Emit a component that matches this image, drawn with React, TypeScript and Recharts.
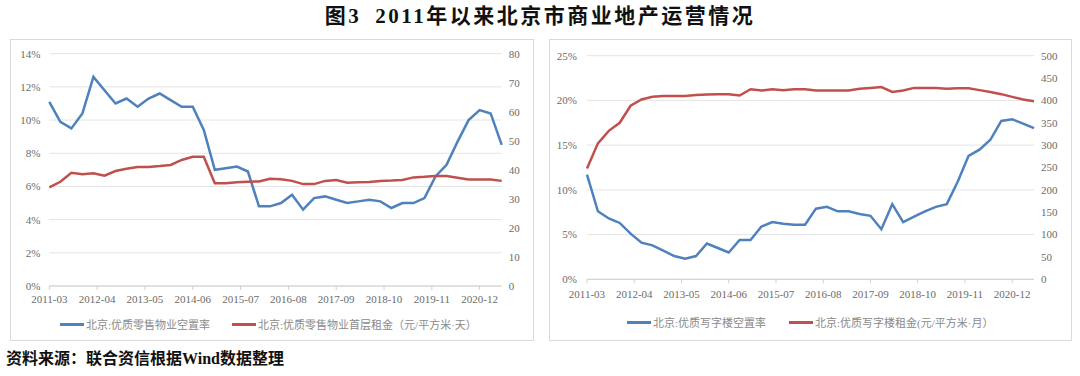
import React from 'react';
import { LineChart, Line, XAxis, YAxis, CartesianGrid, Legend } from 'recharts';

// Quarterly observation dates
const dates: string[] = [
  '2011-03', '2011-06', '2011-09', '2011-12',
  '2012-03', '2012-06', '2012-09', '2012-12',
  '2013-03', '2013-06', '2013-09', '2013-12',
  '2014-03', '2014-06', '2014-09', '2014-12',
  '2015-03', '2015-06', '2015-09', '2015-12',
  '2016-03', '2016-06', '2016-09', '2016-12',
  '2017-03', '2017-06', '2017-09', '2017-12',
  '2018-03', '2018-06', '2018-09', '2018-12',
  '2019-03', '2019-06', '2019-09', '2019-12',
  '2020-03', '2020-06', '2020-09', '2020-12',
  '2021-03', '2021-06',
];

const tickLabels: string[] = [
  '2011-03', '2012-04', '2013-05', '2014-06', '2015-07',
  '2016-08', '2017-09', '2018-10', '2019-11', '2020-12',
];

// 北京:优质零售物业空置率 (%)
const retailVacancy: number[] = [
  11.1, 9.9, 9.5, 10.4, 12.6, 11.8, 11.0, 11.3, 10.8, 11.3,
  11.6, 11.2, 10.8, 10.8, 9.4, 7.0, 7.1, 7.2, 6.9, 4.8,
  4.8, 5.0, 5.5, 4.6, 5.3, 5.4, 5.2, 5.0, 5.1, 5.2,
  5.1, 4.7, 5.0, 5.0, 5.3, 6.6, 7.3, 8.7, 10.0, 10.6,
  10.4, 8.5,
];
// 北京:优质零售物业首层租金 (元/平方米·天)
const retailRent: number[] = [
  34.0, 35.9, 39.0, 38.5, 38.8, 38.0, 39.6, 40.4, 41.0, 41.0,
  41.3, 41.7, 43.4, 44.5, 44.5, 35.4, 35.4, 35.7, 35.9, 36.0,
  36.9, 36.8, 36.2, 35.1, 35.1, 36.2, 36.5, 35.6, 35.7, 35.8,
  36.2, 36.3, 36.5, 37.4, 37.6, 37.9, 37.9, 37.3, 36.7, 36.7,
  36.7, 36.2,
];
// 北京:优质写字楼空置率 (%)
const officeVacancy: number[] = [
  11.7, 7.6, 6.8, 6.3, 5.1, 4.1, 3.8, 3.2, 2.6, 2.3,
  2.6, 4.0, 3.5, 3.0, 4.4, 4.4, 5.9, 6.4, 6.2, 6.1,
  6.1, 7.9, 8.1, 7.6, 7.6, 7.3, 7.1, 5.6, 8.4, 6.4,
  7.0, 7.6, 8.1, 8.4, 10.9, 13.8, 14.5, 15.6, 17.7, 17.9,
  17.4, 16.9,
];
// 北京:优质写字楼租金 (元/平方米·月)
const officeRent: number[] = [
  248, 304, 332, 350, 388, 402, 408, 410, 410, 410,
  412, 413, 414, 414, 411, 425, 422, 425, 423, 425,
  425, 422, 422, 422, 422, 426, 428, 430, 419, 422,
  428, 428, 428, 426, 427, 427, 423, 419, 414, 408,
  402, 398,
];

const leftPctTicks = [0, 2, 4, 6, 8, 10, 12, 14];
const leftRentTicks = [0, 10, 20, 30, 40, 50, 60, 70, 80];
const rightPctTicks = [0, 5, 10, 15, 20, 25];
const rightRentTicks = [0, 50, 100, 150, 200, 250, 300, 350, 400, 450, 500];

const monthIndex = (s: string) => {
  const [y, m] = s.split('-').map(Number);
  return (y - 2011) * 12 + (m - 3);
};
const tickMonths = tickLabels.map(monthIndex);
const labelByMonth: Record<number, string> = {};
tickLabels.forEach((t) => { labelByMonth[monthIndex(t)] = t; });
const xDomain = [0, monthIndex(dates[dates.length - 1])];

const retailData = dates.map((d, i) => ({ m: monthIndex(d), vac: retailVacancy[i], rent: retailRent[i] }));
const officeData = dates.map((d, i) => ({ m: monthIndex(d), vac: officeVacancy[i], rent: officeRent[i] }));

const BLUE = '#4F81BD';
const RED = '#C0504D';
const SERIF = '"Liberation Serif", "Times New Roman", "Noto Sans CJK SC", serif';
const tickStyle = { fontSize: 11, fill: '#6b6b6b', fontFamily: SERIF };

const makeLegend = (items: { name: string; color: string }[], left: number, gap: number) => () => (
  <div style={{ display: 'flex', alignItems: 'center', paddingLeft: left, fontFamily: SERIF, fontSize: 11, color: '#8a8a8a', whiteSpace: 'nowrap' }}>
    {items.map((it, k) => (
      <div key={k} style={{ display: 'flex', alignItems: 'center', marginRight: gap }}>
        <div style={{ width: 24, height: 3, background: it.color, marginRight: 2 }} />
        <span>{it.name}</span>
      </div>
    ))}
  </div>
);

const leftLegend = makeLegend([
  { name: '北京:优质零售物业空置率', color: BLUE },
  { name: '北京:优质零售物业首层租金（元/平方米·天）', color: RED },
], 50, 22);

const rightLegend = makeLegend([
  { name: '北京:优质写字楼空置率', color: BLUE },
  { name: '北京:优质写字楼租金(元/平方米·月）', color: RED },
], 78, 23);

export default function App() {
  return (
    <div style={{ position: 'absolute', left: 0, top: 0, width: 1080, height: 376, background: '#fff', overflow: 'hidden' }}>
      <div style={{ position: 'absolute', left: 0, top: 3, width: 1080, textAlign: 'center', fontFamily: SERIF, fontWeight: 'bold', fontSize: 21, letterSpacing: 2.5, color: '#111', lineHeight: '26px' }}>
        图3<span style={{ display: 'inline-block', width: 14 }} />2011年以来北京市商业地产运营情况
      </div>

      <div style={{ position: 'absolute', left: 10, top: 39, width: 524, height: 302, border: '1px solid #d9d9d9', boxSizing: 'border-box' }} />
      <div style={{ position: 'absolute', left: 10, top: 39 }}>
        <LineChart width={524} height={302} data={retailData} margin={{ top: 14.7, left: 9.3, right: 7.3, bottom: 35 }}>
          <CartesianGrid vertical={false} yAxisId="l" stroke="#e4e4e4" />
          <XAxis dataKey="m" type="number" domain={xDomain} ticks={tickMonths} interval={0}
            tickFormatter={(v: number) => labelByMonth[v] ?? ''} height={20}
            axisLine={{ stroke: '#d0d0d0' }} tickLine={{ stroke: '#d0d0d0' }} tickSize={4} tickMargin={5} tick={tickStyle} />
          <YAxis yAxisId="l" domain={[0, 14]} ticks={leftPctTicks} tickFormatter={(v: number) => `${v}%`}
            axisLine={false} tickLine={false} tickSize={7} tickMargin={2} width={30} tick={tickStyle} />
          <YAxis yAxisId="r" orientation="right" domain={[0, 80]} ticks={leftRentTicks}
            axisLine={false} tickLine={false} tickSize={5} tickMargin={2} width={25} tick={tickStyle} />
          <Line yAxisId="l" dataKey="vac" stroke={BLUE} strokeWidth={2.5} dot={false} type="linear" isAnimationActive={false} />
          <Line yAxisId="r" dataKey="rent" stroke={RED} strokeWidth={2.5} dot={false} type="linear" isAnimationActive={false} />
          <Legend verticalAlign="middle" align="center" layout="horizontal" content={leftLegend}
            wrapperStyle={{ top: 277, left: 0, width: 524, height: 16 }} />
        </LineChart>
      </div>

      <div style={{ position: 'absolute', left: 549, top: 39, width: 523, height: 302, border: '1px solid #d9d9d9', boxSizing: 'border-box' }} />
      <div style={{ position: 'absolute', left: 549, top: 39 }}>
        <LineChart width={523} height={302} data={officeData} margin={{ top: 16.7, left: 8, right: 8, bottom: 41.7 }}>
          <CartesianGrid vertical={false} yAxisId="l" stroke="#e4e4e4" />
          <XAxis dataKey="m" type="number" domain={xDomain} ticks={tickMonths} interval={0}
            tickFormatter={(v: number) => labelByMonth[v] ?? ''} height={20}
            axisLine={{ stroke: '#d0d0d0' }} tickLine={{ stroke: '#d0d0d0' }} tickSize={4} tickMargin={6.7} tick={tickStyle} />
          <YAxis yAxisId="l" domain={[0, 25]} ticks={rightPctTicks} tickFormatter={(v: number) => `${v}%`}
            axisLine={false} tickLine={false} tickSize={8} tickMargin={2} width={30} tick={tickStyle} />
          <YAxis yAxisId="r" orientation="right" domain={[0, 500]} ticks={rightRentTicks}
            axisLine={false} tickLine={false} tickSize={5} tickMargin={2} width={30} tick={tickStyle} />
          <Line yAxisId="l" dataKey="vac" stroke={BLUE} strokeWidth={2.5} dot={false} type="linear" isAnimationActive={false} />
          <Line yAxisId="r" dataKey="rent" stroke={RED} strokeWidth={2.5} dot={false} type="linear" isAnimationActive={false} />
          <Legend verticalAlign="middle" align="center" layout="horizontal" content={rightLegend}
            wrapperStyle={{ top: 275, left: 0, width: 523, height: 16 }} />
        </LineChart>
      </div>

      <div style={{ position: 'absolute', left: 6, top: 349, fontFamily: SERIF, fontWeight: 'bold', fontSize: 16, color: '#111', lineHeight: '20px', whiteSpace: 'nowrap' }}>
        资料来源：联合资信根据Wind数据整理
      </div>
    </div>
  );
}
